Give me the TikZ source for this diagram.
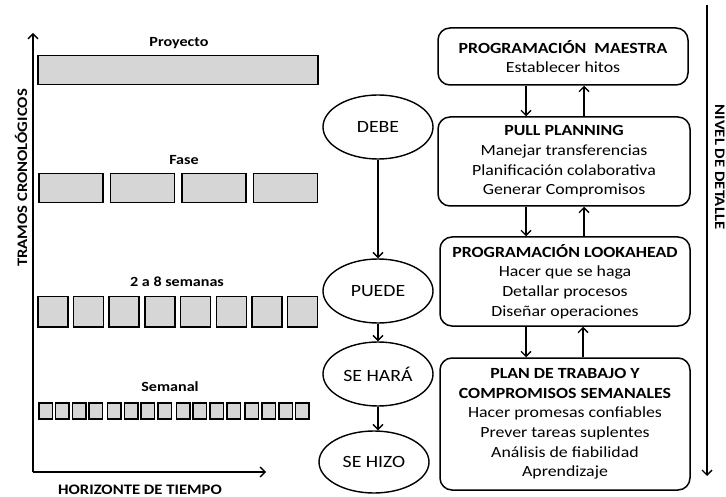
\documentclass[tikz,border=0pt]{standalone}
\usepackage{fontspec}
\setmainfont{Carlito}[FakeStretch=1.15]
\usetikzlibrary{shapes.geometric,arrows.meta}
\definecolor{barfill}{HTML}{D6D6D6}
\begin{document}
\begin{tikzpicture}[x=1pt,y=-1pt,
  bar/.style={draw, fill=barfill, line width=1.5pt, inner sep=0pt, anchor=north west},
  lbl/.style={font=\bfseries\fontsize{14}{16}\selectfont, inner sep=0pt},
  axlbl/.style={font=\bfseries\fontsize{14.5}{17}\selectfont, inner sep=0pt},
  stage/.style={ellipse, draw, line width=1.4pt, minimum width=110pt, minimum height=64pt, inner sep=0pt, font=\fontsize{17.2}{20}\selectfont},
  pbox/.style={draw, rounded corners=12pt, line width=1.5pt, align=center, inner sep=0pt, font=\fontsize{15.5}{19.6}\selectfont},
  arr/.style={line width=1.4pt, -{Straight Barb[length=5pt,width=10pt]}}
]
\useasboundingbox (0,0) rectangle (726,497);

% axes
\coordinate (orig) at (33,472);
\coordinate (ytop) at (33,33);
\coordinate (xend) at (266,472);
\draw[arr] (orig) -- (ytop);
\draw[arr] (orig) -- (xend);
\node[axlbl, rotate=90] (ylab) at (21,178) {TRAMOS CRONOLÓGICOS};
\node[axlbl] (xlab) at (140,490) {HORIZONTE DE TIEMPO};

% Proyecto
\node[lbl] (lproj) at (179,43) {Proyecto};
\node[bar, minimum width=280pt, minimum height=29pt] (proj) at (37,55) {};

% Fase
\node[lbl] (lfase) at (184,160) {Fase};
\foreach \i in {0,...,3}{
  \node[bar, minimum width=64pt, minimum height=29pt] (fase\i) at ({38+71.5*\i},173) {};
}

% 2 a 8 semanas
\node[lbl] (lsem8) at (177,282) {2 a 8 semanas};
\foreach \i in {0,...,7}{
  \node[bar, minimum width=30pt, minimum height=30pt] (s8\i) at ({37+35.7*\i},296) {};
}

% Semanal
\node[lbl] (lsem) at (170,387) {Semanal};
\foreach \g in {0,...,3}{
  \foreach \j in {0,...,3}{
    \node[bar, minimum width=13.5pt, minimum height=16pt] (w\g\j) at ({38+68.8*\g+16.8*\j},402) {};
  }
}

% stages
\node[stage] (debe) at (378,127) {DEBE};
\node[stage] (puede) at (378,291) {PUEDE};
\node[stage] (hara) at (378,374) {SE HARÁ};
\node[stage, minimum height=62pt] (hizo) at (374,462) {SE HIZO};
\draw[arr] (debe.south) -- (puede.north);
\draw[arr] (puede.south) -- (hara.north);
\draw[arr] (hara.south) -- (hara.south |- hizo.north);

% planning boxes
\node[pbox, minimum width=250pt, minimum height=57pt] (mae) at (563,56.5)
  {\textbf{PROGRAMACIÓN\ \ MAESTRA}\\Establecer hitos};
\node[pbox, minimum width=252pt, minimum height=89pt] (pull) at (564,161.5)
  {\textbf{PULL PLANNING}\\Manejar transferencias\\Planificación colaborativa\\Generar Compromisos};
\node[pbox, minimum width=250pt, minimum height=89pt] (look) at (565,281.5)
  {\textbf{PROGRAMACIÓN LOOKAHEAD}\\Hacer que se haga\\Detallar procesos\\Diseñar operaciones};
\node[pbox, minimum width=250pt, minimum height=132pt] (plan) at (565,424)
  {\textbf{PLAN DE TRABAJO Y}\\\textbf{COMPROMISOS SEMANALES}\\Hacer promesas confiables\\Prever tareas suplentes\\Análisis de fiabilidad\\Aprendizaje};

\draw[arr] ([xshift=-37pt]mae.south) -- ([xshift=-37pt]mae.south |- pull.north);
\draw[arr] ([xshift=20pt]pull.north) -- ([xshift=20pt]pull.north |- mae.south);
\draw[arr] ([xshift=-38pt]pull.south) -- ([xshift=-38pt]pull.south |- look.north);
\draw[arr] ([xshift=19pt]look.north) -- ([xshift=19pt]look.north |- pull.south);
\draw[arr] ([xshift=-39pt]look.south) -- ([xshift=-39pt]look.south |- plan.north);
\draw[arr] ([xshift=18pt]plan.north) -- ([xshift=18pt]plan.north |- look.south);

% nivel de detalle
\coordinate (ndtop) at (707,5);
\coordinate (ndbot) at (707,476);
\draw[arr] (ndtop) -- (ndbot);
\node[axlbl, rotate=-90, anchor=base] (ndlab) at (715,167) {NIVEL DE DETALLE};
\end{tikzpicture}
\end{document}
